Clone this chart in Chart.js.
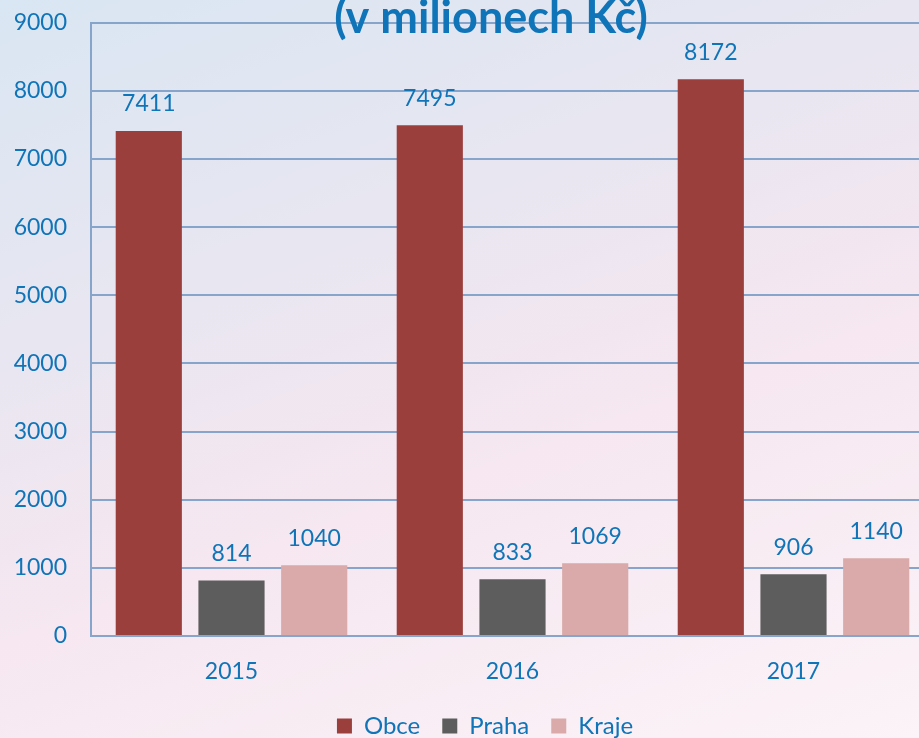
<!DOCTYPE html>
<html>
<head>
<meta charset="utf-8">
<script src="https://cdn.jsdelivr.net/npm/chart.js@4/dist/chart.umd.min.js"></script>
<style>
  html, body { margin: 0; padding: 0; }
  body {
    width: 919px; height: 738px; overflow: hidden;
    background: linear-gradient(160deg, #d9e6f3 0%, #e9e6f1 35%, #f6e7f0 60%, #fbf3f8 100%);
  }
  canvas { display: block; margin-top: -15px; }
</style>
</head>
<body>
<canvas id="budgetChart" width="1000" height="763"></canvas>
<script>
// data
var years = ['2015', '2016', '2017'];
var obce = [7411, 7495, 8172];
var praha = [814, 833, 906];
var kraje = [1040, 1069, 1140];
var titleText = '(v milionech Kč)';

var blue = '#0f74b8';
var fontName = 'Lato, "Open Sans", sans-serif';

// title drawn at top, partly cut off like the source
var titlePlugin = {
    id: 'topTitle',
    afterDraw: function (chart) {
        var c = chart.ctx;
        c.save();
        c.font = 'bold 45px ' + fontName;
        c.fillStyle = blue;
        c.textAlign = 'center';
        c.textBaseline = 'alphabetic';
        c.fillText(titleText, 491, 48);
        c.restore();
    }
};

// value labels above bars
var valuePlugin = {
    id: 'values',
    afterDatasetsDraw: function (chart) {
        var c = chart.ctx;
        c.save();
        c.font = '23px ' + fontName;
        c.fillStyle = blue;
        c.textAlign = 'center';
        c.textBaseline = 'middle';
        chart.data.datasets.forEach(function (ds, i) {
            chart.getDatasetMeta(i).data.forEach(function (bar, j) {
                c.fillText(ds.data[j], bar.x, bar.y - 27);
            });
        });
        c.restore();
    }
};

// nudge legend a bit to the right
var legendShift = {
    id: 'legendShift',
    afterLayout: function (chart) {
        chart.legend.left += 18;
        chart.legend.right += 18;
    }
};

var ctx = document.getElementById('budgetChart').getContext('2d');
var myChart = new Chart(ctx, {
    type: 'bar',
    data: {
        labels: years,
        datasets: [
            { label: 'Obce', data: obce, backgroundColor: '#9b3f3d' },
            { label: 'Praha', data: praha, backgroundColor: '#5d5d5d' },
            { label: 'Kraje', data: kraje, backgroundColor: '#d9aaa9' }
        ]
    },
    options: {
        responsive: false,
        animation: false,
        categoryPercentage: 0.883,
        barPercentage: 0.8,
        layout: { padding: { top: 10, right: 66, left: 0, bottom: 0 } },
        plugins: {
            legend: {
                position: 'bottom',
                labels: {
                    boxWidth: 15,
                    boxHeight: 15,
                    padding: 22,
                    color: blue,
                    font: { family: fontName, size: 24 }
                }
            },
            tooltip: { enabled: false }
        },
        scales: {
            x: {
                grid: { display: false },
                border: { color: '#87a5cb', width: 2 },
                ticks: { color: blue, font: { family: fontName, size: 23 }, padding: 14 },
                afterFit: function (s) { s.height = 56; }
            },
            y: {
                min: 0,
                max: 9000,
                grid: { color: '#87a5cb', lineWidth: 2, drawTicks: false },
                border: { color: '#87a5cb', width: 2 },
                ticks: {
                    stepSize: 1000,
                    color: blue,
                    padding: 24,
                    font: { family: fontName, size: 23 },
                    callback: function (v) { return String(v); }
                },
                afterFit: function (s) { s.width = 91; }
            }
        }
    },
    plugins: [valuePlugin, titlePlugin, legendShift]
});
</script>
</body>
</html>
